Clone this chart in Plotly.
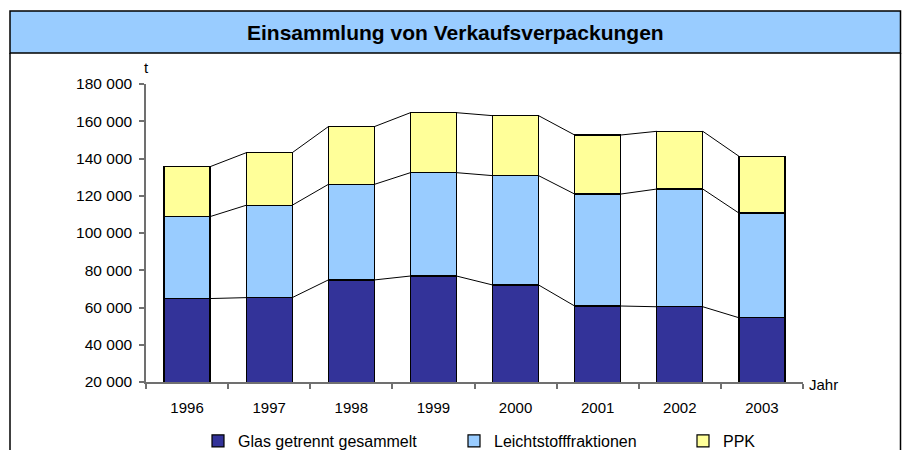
import plotly.graph_objects as go

years = ["1996", "1997", "1998", "1999", "2000", "2001", "2002", "2003"]
glas = [64800, 65300, 74800, 76900, 72100, 60800, 60400, 54500]
lvp = [44000, 49600, 51300, 55500, 58700, 60100, 63200, 56200]
ppk = [26800, 28200, 31000, 32200, 32200, 31700, 31000, 30500]

series_names = ["Glas getrennt gesammelt", "Leichtstofffraktionen", "PPK"]
series_vals = [glas, lvp, ppk]
colors = ["#333399", "#99CCFF", "#FFFF99"]
legend_ids = ["legend", "legend2", "legend3"]

W, H = 905, 450
L, R, T, B = 146, 803, 84, 382  # plot area in px


def px_x(x):
    return (x - L) / (R - L)


def px_y(y):
    return (B - y) / (B - T)


FONT = "Arial, Liberation Sans, sans-serif"
bw = 0.56
xs = list(range(len(years)))

fig = go.Figure()

for name, vals, col, lg in zip(series_names, series_vals, colors, legend_ids):
    fig.add_trace(go.Bar(
        x=xs, y=vals, name=name, width=bw,
        marker=dict(color=col, line=dict(color="#000000", width=1.2)),
        legend=lg,
    ))

# series lines connecting stack tops
cum = [0] * len(years)
for vals in series_vals:
    cum = [c + v for c, v in zip(cum, vals)]
    lx, ly = [], []
    for i in range(len(years) - 1):
        lx += [i + bw / 2, i + 1 - bw / 2, None]
        ly += [cum[i], cum[i + 1], None]
    fig.add_trace(go.Scatter(x=lx, y=ly, mode="lines",
                             line=dict(color="#000000", width=1),
                             showlegend=False, hoverinfo="skip"))

axis_col = "#707070"
fig.update_layout(
    width=W, height=H,
    margin=dict(l=L, r=W - R, t=T, b=H - B, autoexpand=False),
    barmode="stack",
    paper_bgcolor="white", plot_bgcolor="white",
    separators=", ",
    font=dict(family=FONT, size=15, color="#000000"),
    xaxis=dict(
        range=[-0.5, len(years) - 0.5],
        tickmode="array", tickvals=xs, ticktext=years,
        ticks="", showgrid=False, zeroline=False,
        showline=True, linecolor=axis_col, linewidth=1.5,
        ticklabelstandoff=11,
        minor=dict(tickmode="array",
                   tickvals=[i - 0.5 for i in range(len(years) + 1)],
                   ticks="outside", ticklen=5, tickcolor=axis_col, tickwidth=1.5),
        tickfont=dict(size=15),
    ),
    yaxis=dict(
        range=[20000, 180000], tickmode="linear", tick0=20000, dtick=20000,
        tickformat=",.0f", ticks="outside", ticklen=5, tickcolor=axis_col, tickwidth=1.5,
        showgrid=False, zeroline=False,
        showline=True, linecolor=axis_col, linewidth=1.5,
        ticklabelstandoff=4,
        tickfont=dict(size=15.5),
    ),
    showlegend=True,
)

leg_common = dict(orientation="h", yanchor="middle", xanchor="left",
                  y=px_y(441), bgcolor="rgba(0,0,0,0)", font=dict(size=16),
                  itemwidth=30)
fig.update_layout(
    legend=dict(x=px_x(198), **leg_common),
    legend2=dict(x=px_x(454), **leg_common),
    legend3=dict(x=px_x(683), **leg_common),
)

# frame and title band
fig.add_shape(type="rect", xref="paper", yref="paper",
              x0=px_x(10), x1=px_x(900.5), y0=px_y(53), y1=px_y(11),
              fillcolor="#99CCFF", line=dict(color="#000000", width=1.5), layer="below")
for xx in (10, 900.5):
    fig.add_shape(type="line", xref="paper", yref="paper",
                  x0=px_x(xx), x1=px_x(xx), y0=px_y(53), y1=px_y(470),
                  line=dict(color="#000000", width=1.5))

fig.add_annotation(text="<b>Einsammlung von Verkaufsverpackungen</b>",
                   xref="paper", yref="paper", x=px_x(455.5), y=px_y(32),
                   xanchor="center", yanchor="middle", showarrow=False,
                   font=dict(size=21, family=FONT))
fig.add_annotation(text="t", xref="paper", yref="paper", x=px_x(146), y=px_y(67),
                   xanchor="center", yanchor="middle", showarrow=False,
                   font=dict(size=15, family=FONT))
fig.add_annotation(text="Jahr", xref="paper", yref="paper", x=px_x(807), y=px_y(384),
                   xanchor="left", yanchor="middle", showarrow=False,
                   font=dict(size=15, family=FONT))

fig.write_html("out.html", config={"displayModeBar": False},
               post_script="document.body.style.margin='0';document.body.style.overflow='hidden';")
